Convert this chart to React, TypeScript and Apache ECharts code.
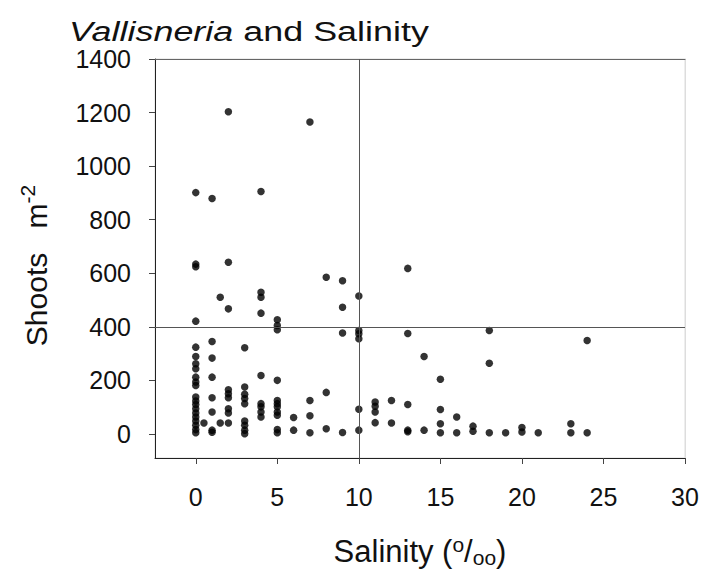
import React, { useEffect, useRef } from "react";
import * as echarts from "echarts";

// Salinity (ppt) and shoot density (shoots m^-2)
const salinity: number[] = [
  0, 0, 0, 0, 0, 0, 0, 0, 0, 0, 0, 0, 0, 0, 0, 0, 0, 0, 0, 0, 0,
  0.5,
  1, 1, 1, 1, 1, 1, 1, 1,
  1.5, 1.5,
  2, 2, 2, 2, 2, 2, 2, 2, 2,
  3, 3, 3, 3, 3, 3, 3, 3, 3,
  4, 4, 4, 4, 4, 4, 4, 4, 4,
  5, 5, 5, 5, 5, 5, 5, 5, 5, 5, 5,
  6, 6,
  7, 7, 7, 7,
  8, 8, 8,
  9, 9, 9, 9,
  10, 10, 10, 10, 10, 10,
  11, 11, 11, 11,
  12, 12,
  13, 13, 13, 13, 13,
  14, 14,
  15, 15, 15, 15,
  16, 16,
  17, 17,
  18, 18, 18,
  19,
  20, 20,
  21,
  23, 23,
  24, 24,
];
const shoots: number[] = [
  901, 634, 624, 421, 324, 289, 262, 243, 212, 194, 181, 138, 123, 110, 94, 78, 63, 48, 32, 16, 4,
  41,
  879, 345, 283, 212, 135, 82, 14, 6,
  510, 41,
  1203, 641, 467, 165, 150, 135, 94, 78, 41,
  322, 175, 148, 132, 113, 48, 32, 14, 1,
  905, 529, 510, 451, 218, 113, 101, 82, 63,
  426, 405, 389, 200, 125, 113, 101, 82, 70, 16, 4,
  61, 14,
  1165, 125, 68, 4,
  585, 155, 19,
  572, 473, 377, 5,
  515, 386, 374, 355, 92, 14,
  119, 103, 82, 42,
  125, 41,
  618, 375, 110, 14, 8,
  289, 14,
  204, 91, 38, 4,
  63, 4,
  29, 10,
  386, 264, 4,
  4,
  24, 7,
  4,
  38, 4,
  349, 4,
];

const xTicks: number[] = [0, 5, 10, 15, 20, 25, 30];
const yTicks: number[] = [0, 200, 400, 600, 800, 1000, 1200, 1400];
const refSalinity = 10;
const refShoots = 400;

const FONT = "'Liberation Sans', Arial, sans-serif";

export default function App() {
  const ref = useRef<HTMLDivElement>(null);
  useEffect(() => {
    document.body.style.margin = "0";
    if (!ref.current) return;
    const chart = echarts.init(ref.current, null, { renderer: "svg" });
    const points = salinity.map((s, i) => [s, shoots[i]]);
    chart.setOption({
      animation: false,
      backgroundColor: "#ffffff",
      graphic: [
        {
          type: "text",
          x: 69,
          y: 32,
          scaleX: 1.33,
          silent: true,
          style: {
            text: "{i|Vallisneria} and Salinity",
            fontFamily: FONT,
            fontSize: 27,
            fill: "#111",
            verticalAlign: "middle",
            rich: {
              i: { fontFamily: FONT, fontSize: 27, fontStyle: "italic", fill: "#111", color: "#111" },
            },
          },
        },
      ],
      grid: {
        left: 155,
        right: 19,
        top: 59,
        bottom: 117,
        show: true,
        borderColor: "#dddddd",
        borderWidth: 1,
        containLabel: false,
        outerBoundsMode: "none",
      },
      xAxis: [
        {
          type: "value",
          min: -2.5,
          max: 30,
          splitLine: { show: false },
          axisLine: { show: true, onZero: false, lineStyle: { color: "#222", width: 1 } },
          axisTick: { show: true, length: 6, customValues: xTicks, lineStyle: { color: "#444" } },
          axisLabel: {
            customValues: xTicks,
            fontFamily: FONT,
            fontSize: 25,
            color: "#111",
            margin: 26,
            formatter: (v: number) => String(v),
          },
          name: "Salinity ({sup|o}/{sub|oo})",
          nameLocation: "middle",
          nameGap: 76,
          nameTextStyle: {
            fontFamily: FONT,
            fontSize: 31,
            color: "#111",
            lineHeight: 34,
            rich: {
              sup: { fontFamily: FONT, fontSize: 21, color: "#111", verticalAlign: "top", lineHeight: 20 },
              sub: { fontFamily: FONT, fontSize: 21, color: "#111", verticalAlign: "bottom", lineHeight: 20 },
            },
          },
        },
        {
          type: "value",
          position: "top",
          min: -2.5,
          max: 30,
          splitLine: { show: false },
          axisLine: { show: true, onZero: false, lineStyle: { color: "#666", width: 1 } },
          axisTick: { show: false },
          axisLabel: { show: false },
        },
      ],
      yAxis: [
        {
          type: "value",
          min: -90,
          max: 1400,
          splitLine: { show: false },
          axisLine: { show: true, onZero: false, lineStyle: { color: "#222", width: 1 } },
          axisTick: { show: true, length: 6, customValues: yTicks, lineStyle: { color: "#444" } },
          axisLabel: {
            customValues: yTicks,
            fontFamily: FONT,
            fontSize: 25,
            color: "#111",
            margin: 24,
            formatter: (v: number) => String(v),
          },
          name: "Shoots {m|m}{sup|-2}",
          nameLocation: "middle",
          nameGap: 100,
          nameRotate: 90,
          nameTextStyle: {
            fontFamily: FONT,
            fontSize: 30,
            color: "#111",
            lineHeight: 38,
            rich: {
              m: { fontFamily: FONT, fontSize: 30, color: "#111", padding: [0, 0, 0, 16] },
              sup: {
                fontFamily: FONT,
                fontSize: 21,
                color: "#111",
                verticalAlign: "top",
                lineHeight: 21,
                padding: [0, 14, 0, 0],
              },
            },
          },
        },
        {
          type: "value",
          position: "right",
          min: -90,
          max: 1400,
          splitLine: { show: false },
          axisLine: { show: true, onZero: false, lineStyle: { color: "#dddddd", width: 1 } },
          axisTick: { show: false },
          axisLabel: { show: false },
        },
      ],
      series: [
        {
          type: "scatter",
          xAxisIndex: 0,
          yAxisIndex: 0,
          data: points,
          symbol: "circle",
          symbolSize: 7.5,
          itemStyle: { color: "#000" },
          silent: true,
          markLine: {
            silent: true,
            symbol: "none",
            label: { show: false },
            lineStyle: { color: "#555", width: 1, type: "solid" },
            data: [{ xAxis: refSalinity }, { yAxis: refShoots }],
          },
        },
      ],
    });
    return () => chart.dispose();
  }, []);
  return <div ref={ref} style={{ width: 704, height: 575 }} />;
}
